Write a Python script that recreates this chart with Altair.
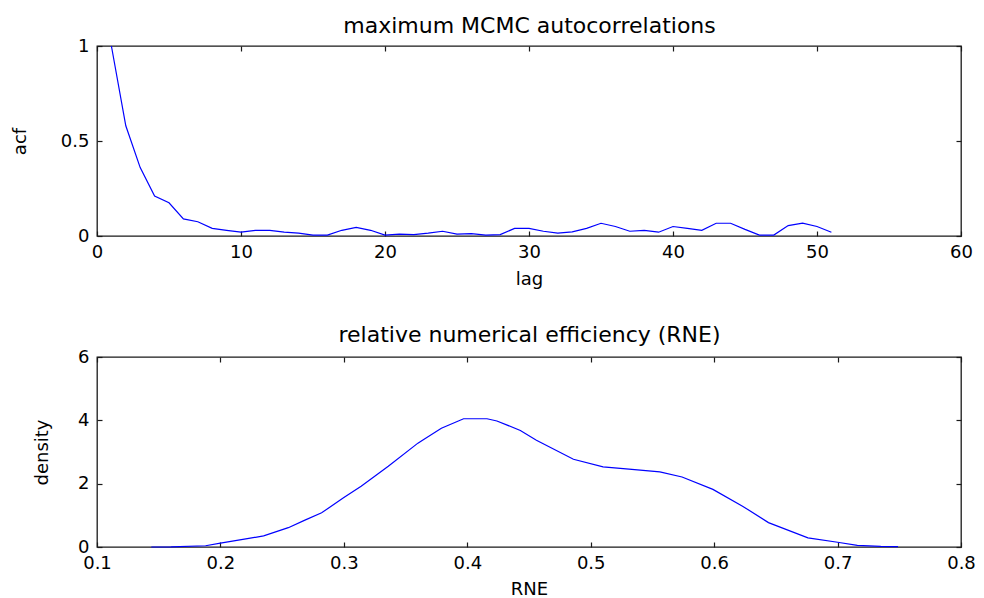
import altair as alt
import pandas as pd

# ---- data ----
lags = list(range(1, 52))
acf_vals = [1.0, 0.58, 0.36, 0.21, 0.175, 0.09, 0.075, 0.04, 0.03, 0.02,
            0.03, 0.03, 0.02, 0.015, 0.005, 0.005, 0.03, 0.045, 0.03, 0.005,
            0.01, 0.007, 0.015, 0.025, 0.01, 0.012, 0.005, 0.007, 0.04, 0.04,
            0.025, 0.015, 0.022, 0.04, 0.067, 0.05, 0.025, 0.03, 0.02, 0.05,
            0.04, 0.03, 0.067, 0.067, 0.035, 0.005, 0.005, 0.055, 0.068, 0.05,
            0.02]

rne_vals = [0.144, 0.160, 0.188, 0.200, 0.223, 0.235, 0.255, 0.268, 0.282, 0.300,
            0.314, 0.336, 0.360, 0.365, 0.379, 0.397, 0.416, 0.424, 0.443, 0.456,
            0.486, 0.510, 0.531, 0.556, 0.574, 0.599, 0.623, 0.644, 0.676, 0.700,
            0.716, 0.735, 0.749]
dens_vals = [0.0, 0.005, 0.04, 0.12, 0.27, 0.35, 0.61, 0.84, 1.08, 1.56,
             1.92, 2.55, 3.28, 3.40, 3.75, 4.05, 4.05, 3.98, 3.68, 3.37,
             2.77, 2.53, 2.46, 2.37, 2.21, 1.82, 1.29, 0.77, 0.29, 0.15,
             0.05, 0.02, 0.01]

acf_xticks = [0, 10, 20, 30, 40, 50, 60]
acf_yticks = [0, 0.5, 1]
rne_xticks = [0.1, 0.2, 0.3, 0.4, 0.5, 0.6, 0.7, 0.8]
rne_yticks = [0, 2, 4, 6]

FONT = "DejaVu Sans"
BLUE = "#0000ff"
W, H = 864, 190
TICK_IN = {"expr": "-5"}


def panel(df, xf, yf, xdom, ydom, xt, yt, xtitle, ytitle, title, ytitle_x, xtitle_y, title_y):
    xs = alt.Scale(domain=xdom, nice=False, zero=False)
    ys = alt.Scale(domain=ydom, nice=False, zero=False)
    main = alt.Chart(df).mark_line(color=BLUE, strokeWidth=1.2).encode(
        x=alt.X(f"{xf}:Q", scale=xs,
                axis=alt.Axis(values=xt, format="~f", orient="bottom", title=xtitle,
                              tickSize=TICK_IN, labelPadding=12, labelFlush=False,
                              labelOverlap=False, titleY=xtitle_y, titleBaseline="middle")),
        y=alt.Y(f"{yf}:Q", scale=ys,
                axis=alt.Axis(values=yt, format="~f", orient="left", title=ytitle,
                              tickSize=TICK_IN, labelPadding=13, labelFlush=False,
                              labelOverlap=False, titleX=ytitle_x, titleY=H / 2,
                              titleAngle=270, titleAlign="center",
                              titleBaseline="middle")),
    )
    mirror = alt.Chart(df).mark_line(strokeOpacity=0).encode(
        x=alt.X(f"{xf}:Q", scale=xs,
                axis=alt.Axis(values=xt, orient="top", title=title, labels=False,
                              tickSize=TICK_IN, minExtent=0, maxExtent=0,
                              titleX=W / 2, titleY=title_y, titleAlign="center",
                              titleBaseline="alphabetic", titleFontSize=22)),
        y=alt.Y(f"{yf}:Q", scale=ys,
                axis=alt.Axis(values=yt, orient="right", title=None, labels=False,
                              tickSize=TICK_IN, minExtent=0, maxExtent=0)),
    )
    return alt.layer(main, mirror).resolve_axis(x="independent", y="independent").properties(
        width=W, height=H,
    )


acf_df = pd.DataFrame({"lag": lags, "acf": acf_vals})
rne_df = pd.DataFrame({"rne": rne_vals, "density": dens_vals})

top = panel(acf_df, "lag", "acf", [0, 60], [0, 1], acf_xticks, acf_yticks,
            "lag", "acf", "maximum MCMC autocorrelations", -77, 43, -14)
bottom = panel(rne_df, "rne", "density", [0.1, 0.8], [0, 6], rne_xticks, rne_yticks,
               "RNE", "density", "relative numerical efficiency (RNE)", -55, 42, -16)

chart = alt.vconcat(top, bottom, spacing=33).properties(
    padding={"left": 2, "top": 5, "right": 0, "bottom": 0},
    background="white",
).configure_view(
    stroke="#1a1a1a", strokeWidth=1.3
).configure_axis(
    labelFont=FONT, labelFontSize=18, labelColor="#000000",
    titleFont=FONT, titleFontSize=18, titleColor="#000000", titleFontWeight="normal",
    domain=False, grid=False, tickColor="#1a1a1a", tickWidth=1.2, minExtent=0,
)

chart.save("out.html", embed_options={"renderer": "svg", "actions": False})
